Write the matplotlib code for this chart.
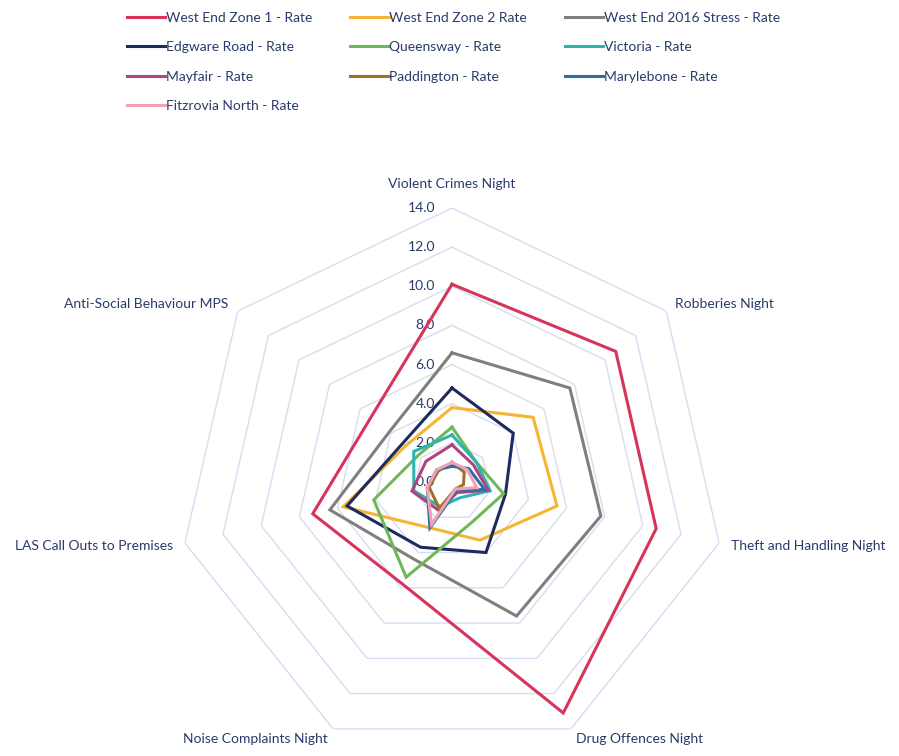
import numpy as np
import matplotlib
matplotlib.use('Agg')
import matplotlib.pyplot as plt
from matplotlib.transforms import offset_copy

plt.rcParams['font.family'] = ['Lato', 'DejaVu Sans']

categories = ['Violent Crimes Night', 'Robberies Night', 'Theft and Handling Night',
              'Drug Offences Night', 'Noise Complaints Night',
              'LAS Call Outs to Premises', 'Anti-Social Behaviour MPS']

west_end_zone1 = [10.1, 10.7, 10.7, 13.1, 5.8, 7.3, 5.3]
west_end_zone2 = [3.8, 5.3, 5.5, 3.3, 2.6, 5.7, 3.0]
west_end_2016 = [6.6, 7.7, 7.8, 7.6, 4.4, 6.4, 4.1]
edgware_road = [4.8, 4.0, 2.8, 4.0, 3.7, 5.5, 3.2]
queensway = [2.8, 1.6, 2.7, 2.3, 5.4, 4.1, 2.2]
victoria = [2.4, 1.6, 2.0, 0.9, 1.4, 2.0, 2.5]
mayfair = [1.9, 1.4, 1.9, 0.6, 1.6, 2.1, 1.7]
paddington = [1.0, 0.8, 0.6, 0.4, 1.5, 1.2, 0.9]
marylebone = [0.8, 1.1, 1.7, 0.5, 2.6, 1.3, 1.0]
fitzrovia_north = [1.0, 1.0, 1.3, 0.4, 2.4, 1.3, 1.0]

series_names = ['West End Zone 1 - Rate', 'West End Zone 2 Rate', 'West End 2016 Stress - Rate',
                'Edgware Road - Rate', 'Queensway - Rate', 'Victoria - Rate',
                'Mayfair - Rate', 'Paddington - Rate', 'Marylebone - Rate',
                'Fitzrovia North - Rate']
series_values = [west_end_zone1, west_end_zone2, west_end_2016, edgware_road, queensway,
                 victoria, mayfair, paddington, marylebone, fitzrovia_north]
series_colors = ['#D8335B', '#F4B532', '#7F7F7F', '#1F2A5E', '#6DB859', '#2DB3B0',
                 '#B3437F', '#A0702A', '#2E6EA6', '#F2A1B2']

grid_levels = [2, 4, 6, 8, 10, 12, 14]
tick_levels = [0, 2, 4, 6, 8, 10, 12, 14]

text_color = '#2A3B6B'
grid_color = '#D7DDF0'

fig = plt.figure(figsize=(8.99, 7.56), dpi=100)
ax = fig.add_axes([0.198, 0.0, 0.6096, 0.7249], projection='polar')
ax.set_theta_offset(np.pi / 2)
ax.set_theta_direction(-1)
ax.set_ylim(0, 14)
ax.grid(False)
ax.set_xticks([])
ax.set_yticks([])
ax.spines['polar'].set_visible(False)
ax.patch.set_alpha(0)

n = len(categories)
angles = np.linspace(0, 2 * np.pi, n, endpoint=False)
closed = np.append(angles, angles[0])

# heptagon gridlines
for lvl in grid_levels:
    ax.plot(closed, [lvl] * (n + 1), color=grid_color, lw=1.0, zorder=1)

# value labels up the first spoke
lbl_trans = offset_copy(ax.transData, fig=fig, x=-17, y=0, units='dots')
for lvl in tick_levels:
    ax.text(0, lvl, f'{lvl:.1f}', transform=lbl_trans, ha='right', va='center',
            fontsize=10, color=text_color, zorder=2)

lines = []
for name, vals, col in zip(series_names, series_values, series_colors):
    ln, = ax.plot(closed, vals + vals[:1], color=col, lw=2.2, label=name, zorder=3,
                  solid_joinstyle='miter')
    lines.append(ln)

# category labels around the outside
for ang, cat in zip(angles, categories):
    x = np.sin(ang)
    if abs(x) < 1e-6:
        ax.text(ang, 15.2, cat, ha='center', va='center', fontsize=10, color=text_color)
    else:
        ax.text(ang, 14.6, cat, ha='left' if x > 0 else 'right', va='center',
                fontsize=10, color=text_color)

# legend laid out row by row in three columns
order = [0, 3, 6, 9, 1, 4, 7, 2, 5, 8]
leg = fig.legend([lines[i] for i in order], [series_names[i] for i in order],
                 loc='upper left', bbox_to_anchor=(127 / 899, 1 - 12 / 756),
                 ncol=3, frameon=False, fontsize=10, handlelength=2.75,
                 handletextpad=0.05, labelspacing=1.25, columnspacing=2.75,
                 borderpad=0, borderaxespad=0)
for t in leg.get_texts():
    t.set_color(text_color)

fig.savefig('out.png', dpi=100)
